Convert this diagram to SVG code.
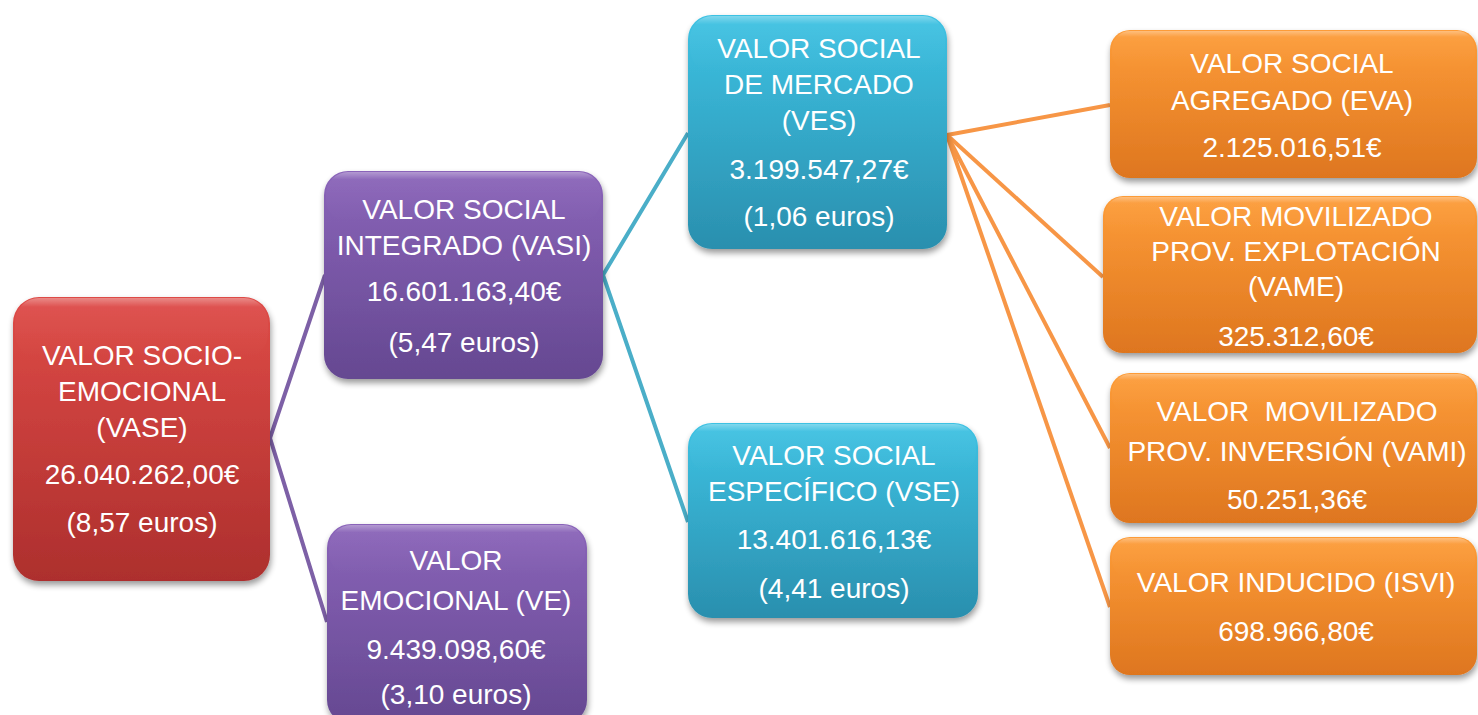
<svg xmlns="http://www.w3.org/2000/svg" width="1478" height="715" viewBox="0 0 1478 715">
<style>
text{font-family:"Liberation Sans",Arial,sans-serif;font-size:28px;fill:#ffffff;text-anchor:middle}
.pre{white-space:pre}
.c{fill:none;stroke-width:4;stroke-linecap:butt}
.cp{stroke:#7d60a6}
.cb{stroke:#4aaec8}
.co{stroke:#f79646}
.box{filter:url(#sh)}
.gl{fill:url(#gloss)}
</style>
<defs>
<filter id="sh" x="-10%" y="-10%" width="120%" height="125%">
<feGaussianBlur in="SourceAlpha" stdDeviation="3"/>
<feOffset dx="1" dy="4" result="b"/>
<feComponentTransfer><feFuncA type="linear" slope="0.4"/></feComponentTransfer>
<feMerge><feMergeNode/><feMergeNode in="SourceGraphic"/></feMerge>
</filter>
<linearGradient id="gr" x1="0" y1="0" x2="0" y2="1"><stop offset="0" stop-color="#de4b47"/><stop offset="1" stop-color="#ad2f2d"/></linearGradient>
<linearGradient id="gp" x1="0" y1="0" x2="0" y2="1"><stop offset="0" stop-color="#8a64b9"/><stop offset="1" stop-color="#654891"/></linearGradient>
<linearGradient id="gb" x1="0" y1="0" x2="0" y2="1"><stop offset="0" stop-color="#3ec2e3"/><stop offset="1" stop-color="#2a8fae"/></linearGradient>
<linearGradient id="go" x1="0" y1="0" x2="0" y2="1"><stop offset="0" stop-color="#fd9c38"/><stop offset="1" stop-color="#de761f"/></linearGradient>
<linearGradient id="gloss" x1="0" y1="0" x2="0" y2="1"><stop offset="0" stop-color="#ffffff" stop-opacity="0.35"/><stop offset="0.15" stop-color="#ffffff" stop-opacity="0.05"/><stop offset="1" stop-color="#ffffff" stop-opacity="0"/></linearGradient>
</defs>

<g id="connectors">
<polyline class="c cp" points="325,275 270,438 327,622"/>
<polyline class="c cb" points="688,133 603,275 688,522"/>
<line class="c co" x1="947" y1="135" x2="1110" y2="105"/>
<line class="c co" x1="947" y1="135" x2="1103" y2="277"/>
<line class="c co" x1="947" y1="135" x2="1110" y2="448"/>
<line class="c co" x1="947" y1="135" x2="1110" y2="607"/>
</g>

<g id="vase">
<rect class="box" x="13" y="297" width="257" height="284" rx="26" fill="url(#gr)"/>
<rect class="gl" x="15" y="298" width="253" height="60" rx="24"/>
<text x="142" y="365">VALOR SOCIO-</text>
<text x="142" y="401">EMOCIONAL</text>
<text x="142" y="437">(VASE)</text>
<text x="142" y="484">26.040.262,00€</text>
<text x="142" y="532">(8,57 euros)</text>
</g>

<g id="vasi">
<rect class="box" x="324" y="171" width="279" height="208" rx="24" fill="url(#gp)"/>
<rect class="gl" x="326" y="172" width="275" height="50" rx="22"/>
<text x="464" y="219">VALOR SOCIAL</text>
<text x="464" y="255">INTEGRADO (VASI)</text>
<text x="464" y="301">16.601.163,40€</text>
<text x="464" y="352">(5,47 euros)</text>
</g>

<g id="ve">
<rect class="box" x="327" y="524" width="260" height="200" rx="24" fill="url(#gp)"/>
<rect class="gl" x="329" y="525" width="256" height="50" rx="22"/>
<text x="456" y="570">VALOR</text>
<text x="456" y="610">EMOCIONAL (VE)</text>
<text x="456" y="659">9.439.098,60€</text>
<text x="456" y="704">(3,10 euros)</text>
</g>

<g id="ves">
<rect class="box" x="688" y="15" width="259" height="234" rx="24" fill="url(#gb)"/>
<rect class="gl" x="690" y="16" width="255" height="55" rx="22"/>
<text x="819" y="58">VALOR SOCIAL</text>
<text x="819" y="94">DE MERCADO</text>
<text x="819" y="130">(VES)</text>
<text x="819" y="179">3.199.547,27€</text>
<text x="819" y="226">(1,06 euros)</text>
</g>

<g id="vse">
<rect class="box" x="688" y="423" width="290" height="195" rx="24" fill="url(#gb)"/>
<rect class="gl" x="690" y="424" width="286" height="50" rx="22"/>
<text x="834" y="465">VALOR SOCIAL</text>
<text x="834" y="501">ESPECÍFICO (VSE)</text>
<text x="834" y="549">13.401.616,13€</text>
<text x="834" y="598">(4,41 euros)</text>
</g>

<g id="eva">
<rect class="box" x="1110" y="30" width="367" height="148" rx="20" fill="url(#go)"/>
<rect class="gl" x="1112" y="31" width="363" height="40" rx="18"/>
<text x="1292" y="73">VALOR SOCIAL</text>
<text x="1292" y="110">AGREGADO (EVA)</text>
<text x="1292" y="157">2.125.016,51€</text>
</g>

<g id="vame">
<rect class="box" x="1103" y="196" width="374" height="157" rx="20" fill="url(#go)"/>
<rect class="gl" x="1105" y="197" width="370" height="40" rx="18"/>
<text x="1296" y="226">VALOR MOVILIZADO</text>
<text x="1296" y="261">PROV. EXPLOTACIÓN</text>
<text x="1296" y="296">(VAME)</text>
<text x="1296" y="346">325.312,60€</text>
</g>

<g id="vami">
<rect class="box" x="1110" y="373" width="367" height="150" rx="20" fill="url(#go)"/>
<rect class="gl" x="1112" y="374" width="363" height="40" rx="18"/>
<text class="pre" x="1297" y="421">VALOR  MOVILIZADO</text>
<text x="1297" y="461">PROV. INVERSIÓN (VAMI)</text>
<text x="1297" y="509">50.251,36€</text>
</g>

<g id="isvi">
<rect class="box" x="1110" y="537" width="367" height="138" rx="20" fill="url(#go)"/>
<rect class="gl" x="1112" y="538" width="363" height="40" rx="18"/>
<text x="1296" y="592">VALOR INDUCIDO (ISVI)</text>
<text x="1296" y="641">698.966,80€</text>
</g>
</svg>
